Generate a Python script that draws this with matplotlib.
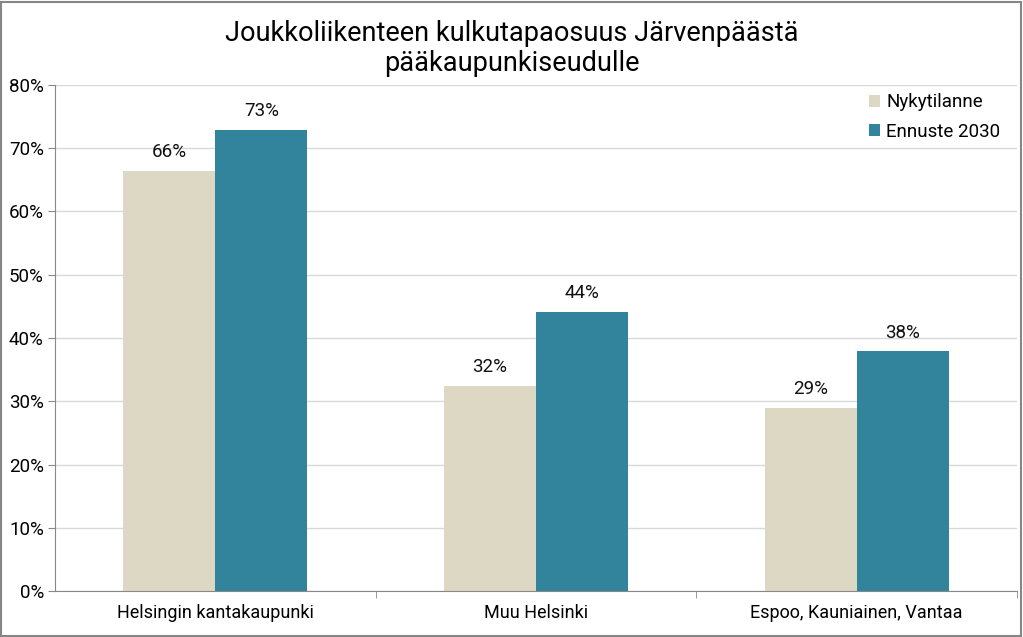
import numpy as np
import matplotlib.pyplot as plt
from matplotlib.patches import Rectangle
from matplotlib.ticker import PercentFormatter

plt.rcParams['font.family'] = ['Roboto', 'DejaVu Sans']

categories = ["Helsingin kantakaupunki", "Muu Helsinki", "Espoo, Kauniainen, Vantaa"]
nykytilanne = [0.664, 0.324, 0.289]
ennuste = [0.729, 0.441, 0.379]
series_names = ["Nykytilanne", "Ennuste 2030"]
colors = ["#DDD8C3", "#31849B"]

fig = plt.figure(figsize=(10.23, 6.37), dpi=100)
ax = fig.add_axes([55 / 1023, 46 / 637, (1017 - 55) / 1023, (591 - 85) / 637])

x = np.arange(len(categories))
w = 0.287
b1 = ax.bar(x - w / 2, nykytilanne, w, color=colors[0], label=series_names[0], zorder=2)
b2 = ax.bar(x + w / 2, ennuste, w, color=colors[1], label=series_names[1], zorder=2)

for bars in (b1, b2):
    for r in bars:
        v = r.get_height()
        ax.annotate(f"{v * 100:.0f}%", (r.get_x() + r.get_width() / 2, v),
                    xytext=(0, 7), textcoords="offset points",
                    ha="center", va="bottom", fontsize=13.5, color="#111111")

ax.set_xlim(-0.5, 2.5)
ax.set_ylim(0, 0.8)
ax.set_yticks(np.arange(0, 0.81, 0.1))
ax.yaxis.set_major_formatter(PercentFormatter(1.0, decimals=0))
ax.grid(axis="y", color="#D9D9D9", linewidth=1, zorder=0)

ax.set_xticks(x)
ax.set_xticklabels(categories)
ax.set_xticks([0.5, 1.5, 2.5], minor=True)
ax.tick_params(axis="x", which="major", length=0, labelsize=13, pad=9)
ax.tick_params(axis="x", which="minor", length=5, color="#888888", direction="out")
ax.tick_params(axis="y", length=5, color="#888888", labelsize=13.5, pad=3)

for s in ("top", "right"):
    ax.spines[s].set_visible(False)
for s in ("left", "bottom"):
    ax.spines[s].set_color("#888888")

ax.legend(loc="upper right", bbox_to_anchor=(1.0, 1.017), frameon=False, fontsize=13.5,
          handlelength=0.6, handleheight=0.6, handletextpad=0.3, labelspacing=0.6)

fig.text(0.5, 0.924, "Joukkoliikenteen kulkutapaosuus Järvenpäästä\npääkaupunkiseudulle",
         ha="center", va="center", fontsize=19.5, linespacing=1.15, color="#000000")

fig.patches.append(Rectangle((0.001, 0.002), 0.997, 0.995, transform=fig.transFigure,
                             fill=False, edgecolor="#868686", linewidth=1.5))

fig.savefig("out.png", dpi=100)
